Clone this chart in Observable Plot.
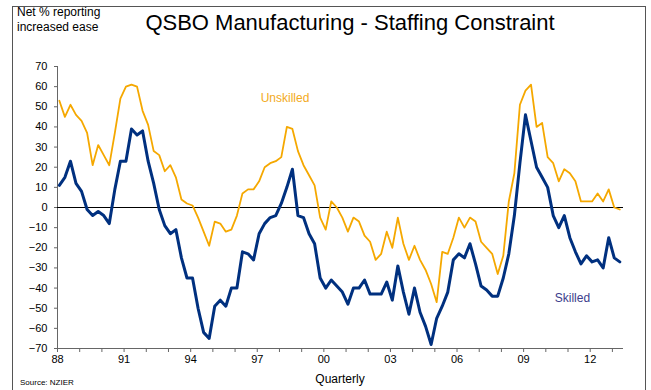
<!DOCTYPE html>
<html>
<head>
<meta charset="utf-8">
<script src="https://cdn.jsdelivr.net/npm/d3@7"></script>
<script src="https://cdn.jsdelivr.net/npm/@observablehq/plot@0.6"></script>
<style>
  body { margin: 0; background: #fff; }
  #wrap { position: relative; width: 651px; height: 390px; overflow: hidden; background: #fff;
          font-family: "Liberation Sans", Arial, sans-serif; }
  .ov { position: absolute; white-space: nowrap; }
</style>
</head>
<body>
<div id="wrap">
  <div class="ov" style="left:12px;top:6px;width:632px;height:420px;border:1px solid #555;"></div>
  <div class="ov" style="left:17px;top:5px;font-size:12px;line-height:15px;color:#000;">Net % reporting<br>increased ease</div>
  <div class="ov" id="title" style="left:0;width:700px;text-align:center;top:10px;font-size:22px;color:#000;">QSBO Manufacturing - Staffing Constraint</div>
  <div id="chart" class="ov" style="left:0;top:0;"></div>
  <div class="ov" style="left:0;width:680px;text-align:center;top:372px;font-size:12px;color:#000;">Quarterly</div>
  <div class="ov" style="left:20px;top:378px;font-size:8px;color:#000;">Source: NZIER</div>
</div>
<script>
// Quarterly series, 1988 Q1 .. 2013 Q2
const startYear = 1988;
const skilled = [
  11, 15, 23, 12, 8, -1, -4, -2, -4, -8,
  9, 23, 23, 39, 36, 38, 23, 12, -1, -9,
  -13, -11, -25, -35, -35, -50, -62, -65, -49, -46,
  -49, -40, -40, -22, -23, -26, -13, -8, -5, -4,
  2, 10, 19, -4, -5, -13, -18, -35, -40, -36,
  -39, -42, -48, -40, -40, -36, -43, -43, -43, -37,
  -46, -29, -42, -53, -40, -52, -59, -68, -55, -49,
  -42, -26, -23, -25, -18, -28, -39, -41, -44, -44,
  -35, -23, -4, 22, 46, 33, 20, 15, 10, -4,
  -10, -4, -15, -22, -28, -24, -27, -26, -30, -15,
  -25, -27
];
const unskilled = [
  53, 45, 51, 46, 43, 37, 21, 31, 26, 21,
  37, 54, 60, 61, 60, 48, 41, 28, 26, 18,
  21, 15, 4, 2, 1, -5, -12, -19, -7, -8,
  -12, -11, -4, 7, 9, 9, 13, 20, 22, 23,
  25, 40, 39, 28, 21, 16, 11, -5, -11, 3,
  0, -5, -12, -5, -7, -14, -17, -26, -23, -12,
  -20, -5, -18, -26, -19, -26, -31, -38, -47, -22,
  -23, -15, -5, -10, -5, -7, -17, -20, -23, -33,
  -24, 3, 17, 51, 58, 61, 40, 42, 25, 22,
  13, 19, 17, 13, 3, 3, 3, 7, 3, 9,
  0, -1
];
const yTicks = [-70, -60, -50, -40, -30, -20, -10, 0, 10, 20, 30, 40, 50, 60, 70];
const xTickYears = d3.range(1988, 2014);
const xLabelYears = [1988, 1991, 1994, 1997, 2000, 2003, 2006, 2009, 2012];
const xTickLabels = ["88", "91", "94", "97", "00", "03", "06", "09", "12"];
const seriesNames = ["Unskilled", "Skilled"];

const colUnskilled = "#f5a800";
const colSkilled = "#00307f";

// quarter k -> fractional year at the middle month of the quarter
const rows = skilled.map((v, k) => ({
  t: startYear + Math.floor(k / 4) + ((k % 4) * 3 + 1) / 12,
  skilled: v,
  unskilled: unskilled[k]
}));

const chart = Plot.plot({
  width: 651,
  height: 390,
  marginLeft: 57,
  marginRight: 28,
  marginTop: 66,
  marginBottom: 42,
  style: { fontFamily: "Liberation Sans, Arial, sans-serif", fontSize: "11px", background: "transparent", color: "#000" },
  x: { domain: [1988, 2013.5] },
  y: { domain: [-70, 70] },
  marks: [
    Plot.axisY({ ticks: yTicks, tickSize: 3, tickPadding: 7, label: null, stroke: "#666", fill: "#000" }),
    Plot.axisX({ ticks: xTickYears, tickSize: 4, tickPadding: 3, label: null, stroke: "#666", fill: "#000",
      tickFormat: d => { const i = xLabelYears.indexOf(d); return i >= 0 ? xTickLabels[i] : ""; } }),
    Plot.ruleX([1988], { stroke: "#666" }),
    Plot.ruleY([-70], { stroke: "#666" }),
    Plot.ruleY([0], { stroke: "#000", strokeWidth: 1 }),
    Plot.line(rows, { x: "t", y: "unskilled", stroke: colUnskilled, strokeWidth: 1.8 }),
    Plot.line(rows, { x: "t", y: "skilled", stroke: colSkilled, strokeWidth: 3 }),
    Plot.text([seriesNames[0]], { x: 1998.25, y: 54.5, text: d => d, fill: "#f2aa1c", fontSize: 12 }),
    Plot.text([seriesNames[1]], { x: 2011.2, y: -45, text: d => d, fill: "#3c3c8c", fontSize: 12 })
  ]
});
document.getElementById("chart").appendChild(chart);
</script>
</body>
</html>
